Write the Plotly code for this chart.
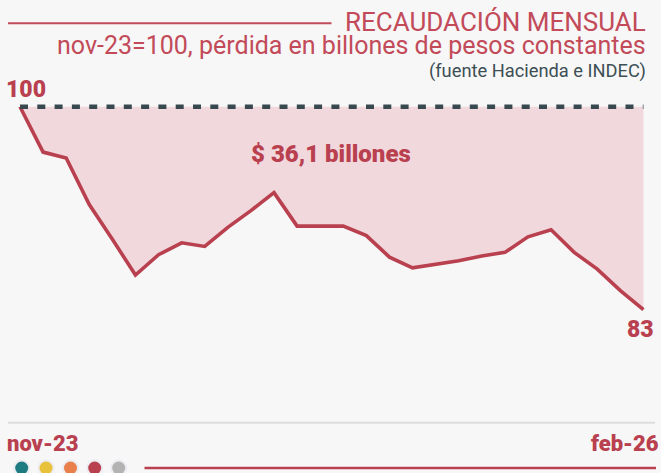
import plotly.graph_objects as go

# ---- data ----
months = ["nov-23", "dic-23", "ene-24", "feb-24", "mar-24", "abr-24", "may-24", "jun-24",
          "jul-24", "ago-24", "sep-24", "oct-24", "nov-24", "dic-24", "ene-25", "feb-25",
          "mar-25", "abr-25", "may-25", "jun-25", "jul-25", "ago-25", "sep-25", "oct-25",
          "nov-25", "dic-25", "ene-26", "feb-26"]
recaudacion = [100.0, 96.2, 95.7, 91.8, 88.9, 85.9, 87.6, 88.6,
               88.3, 89.9, 91.3, 92.8, 90.0, 90.0, 90.0, 89.2,
               87.4, 86.5, 86.8, 87.1, 87.5, 87.8, 89.1, 89.7,
               87.8, 86.4, 84.6, 83.0]
base_level = 100
perdida_label = "$ 36,1 billones"
title_text = "RECAUDACIÓN MENSUAL"
subtitle_text = "nov-23=100, pérdida en billones de pesos constantes"
source_text = "(fuente Hacienda e INDEC)"
dot_colors = ["#1f7b82", "#e8c23a", "#e97f4b", "#b9404f", "#b3b3b3"]

# ---- style ----
W, H = 661, 473
RED = "#b9404f"
RED_T = "#c24a59"
BG = "#f7f7f7"
FILL = "#f1d8dc"
DARK = "#37484e"

def px(x):
    return x / W

def py(y):
    return 1 - y / H

baseline = [base_level] * len(months)

fig = go.Figure()
fig.add_trace(go.Scatter(x=months, y=baseline, mode="lines",
                         line=dict(width=0, color=BG), hoverinfo="skip", showlegend=False))
fig.add_trace(go.Scatter(x=months, y=recaudacion, mode="lines", fill="tonexty",
                         fillcolor=FILL, line=dict(color=RED, width=3.6), showlegend=False))
fig.add_trace(go.Scatter(x=months, y=baseline, mode="lines",
                         line=dict(color=DARK, width=4.5, dash="8px,9.3px"), showlegend=False))

ann = []
def add_text(text, x, y, xanchor, size, color, weight="normal", family="Roboto"):
    ann.append(dict(text=text, x=px(x), y=py(y),
                    xref="paper", yref="paper", xanchor=xanchor, yanchor="middle",
                    showarrow=False, font=dict(family=family, size=size, color=color, weight=weight),
                    borderpad=0))

add_text(title_text, 647, 22.5, "right", 26, RED_T)
add_text(subtitle_text, 647, 46, "right", 25, RED_T)
add_text(source_text, 647, 71, "right", 18.3, "#3d4f55")
add_text(str(base_level), 26, 89.5, "center", 23, RED, weight=900)
add_text(f"{recaudacion[-1]:.0f}", 640.5, 329, "center", 23, RED, weight=900)
add_text(perdida_label, 331, 154, "center", 24, RED, weight=900)
add_text(months[0], 6, 443, "left", 22, RED, weight=900)
add_text(months[-1], 660, 443, "right", 22, RED, weight=900)

shapes = [
    dict(type="line", xref="paper", yref="paper", x0=px(8), x1=px(331.5), y0=py(23.3), y1=py(23.3),
         line=dict(color=RED_T, width=2)),
    dict(type="line", xref="paper", yref="paper", x0=px(8), x1=px(655), y0=py(422.7), y1=py(422.7),
         line=dict(color="#dcdcdc", width=2)),
    dict(type="line", xref="paper", yref="paper", x0=px(144.5), x1=px(656), y0=py(468), y1=py(468),
         line=dict(color=RED, width=2.5)),
]
dot_x = [21.7, 46, 70.5, 94.7, 118.7]
for cx, c in zip(dot_x, dot_colors):
    r = 8.5
    shapes.append(dict(type="circle", xref="paper", yref="paper",
                       x0=px(cx - r), x1=px(cx + r), y0=py(468 - r), y1=py(468 + r),
                       fillcolor="#ececf1", line=dict(width=0), layer="above"))
    r = 6.5
    shapes.append(dict(type="circle", xref="paper", yref="paper",
                       x0=px(cx - r), x1=px(cx + r), y0=py(468 - r), y1=py(468 + r),
                       fillcolor=c, line=dict(width=0), layer="above"))

fig.update_layout(
    width=W, height=H, margin=dict(l=0, r=0, t=0, b=0),
    paper_bgcolor=BG, plot_bgcolor=BG,
    xaxis=dict(type="category", range=[-0.866, 27.76], visible=False, fixedrange=True),
    yaxis=dict(range=[69.32, 108.94], visible=False, fixedrange=True),
    annotations=ann, shapes=shapes, showlegend=False,
)
fig.write_html("out.html", config={"displayModeBar": False},
               post_script="document.body.style.margin='0';document.body.style.overflow='hidden';document.documentElement.style.overflow='hidden';")
